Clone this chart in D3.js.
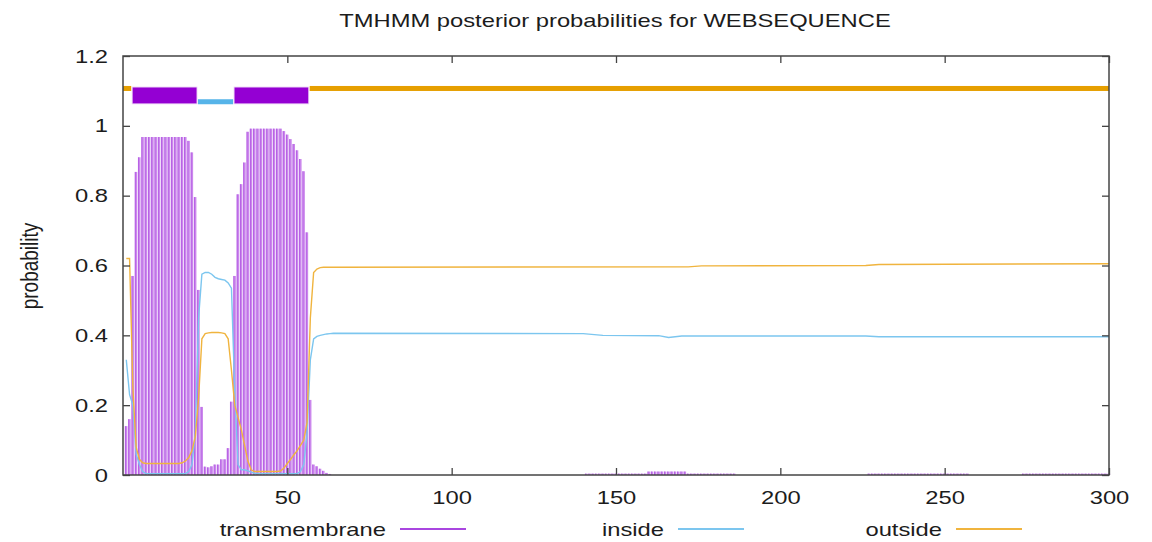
<!DOCTYPE html>
<html>
<head>
<meta charset="utf-8">
<script src="https://cdn.jsdelivr.net/npm/d3@7"></script>
<style>
  body { margin: 0; background: #fff; }
  text { font-family: "Liberation Sans", Arial, sans-serif; fill: #1c1c1c; }
</style>
</head>
<body>
<svg id="chart" width="1152" height="542"></svg>
<script>
// posterior probability of transmembrane state, residues 1..300
const tmProb = [
  0.14, 0.16, 0.57, 0.868, 0.91, 0.968, 0.968, 0.968, 0.968, 0.968, 0.968, 0.968, 0.968, 0.968, 0.968, 0.968, 0.968, 0.968, 0.968, 0.957,
  0.924, 0.796, 0.53, 0.195, 0.024, 0.022, 0.025, 0.03, 0.03, 0.045, 0.045, 0.077, 0.21, 0.57, 0.804, 0.833, 0.895, 0.983, 0.992, 0.992,
  0.992, 0.992, 0.992, 0.992, 0.992, 0.992, 0.992, 0.992, 0.985, 0.975, 0.962, 0.948, 0.93, 0.905, 0.87, 0.695, 0.215, 0.03, 0.025, 0.018,
  0.012, 0.006, 0.003, 0, 0, 0, 0, 0, 0, 0, 0, 0, 0, 0, 0, 0, 0, 0, 0, 0,
  0, 0, 0, 0, 0, 0, 0, 0, 0, 0, 0, 0, 0, 0, 0, 0, 0, 0, 0, 0,
  0, 0, 0, 0, 0, 0, 0, 0, 0, 0, 0, 0, 0, 0, 0, 0, 0, 0, 0, 0,
  0, 0, 0, 0, 0, 0, 0, 0, 0, 0, 0, 0, 0, 0, 0, 0, 0, 0, 0, 0,
  0.004, 0.004, 0.004, 0.004, 0.004, 0.004, 0.004, 0.004, 0.004, 0.004, 0.004, 0.004, 0.004, 0.004, 0.004, 0.004, 0.004, 0.004, 0.004, 0.01,
  0.01, 0.01, 0.01, 0.01, 0.01, 0.01, 0.01, 0.01, 0.01, 0.01, 0.01, 0.004, 0.004, 0.004, 0.004, 0.004, 0.004, 0.004, 0.004, 0.004,
  0.004, 0.004, 0.004, 0.004, 0.004, 0.004, 0, 0, 0, 0, 0, 0, 0, 0, 0, 0, 0, 0, 0, 0,
  0, 0, 0, 0, 0, 0, 0, 0, 0, 0, 0, 0, 0, 0, 0, 0, 0, 0, 0, 0,
  0, 0, 0, 0, 0, 0, 0.004, 0.004, 0.004, 0.004, 0.004, 0.004, 0.004, 0.004, 0.004, 0.004, 0.004, 0.004, 0.004, 0.004,
  0.004, 0.004, 0.004, 0.004, 0.004, 0.004, 0.004, 0.004, 0.004, 0.004, 0.004, 0.004, 0.004, 0.004, 0.004, 0.004, 0.004, 0, 0, 0,
  0, 0, 0, 0, 0, 0, 0, 0, 0, 0, 0, 0, 0, 0.004, 0.004, 0.004, 0.004, 0.004, 0.004, 0.004,
  0.004, 0.004, 0.004, 0.004, 0.004, 0.004, 0.004, 0.004, 0.004, 0.004, 0.004, 0.004, 0.004, 0.004, 0.004, 0.004, 0.004, 0.004, 0.004, 0.004
];

// inside / outside, residue by residue where they move (1..63)
const insideHead = [
  0.33, 0.23, 0.20, 0.06, 0.03, 0.01, 0.004, 0.004, 0.004, 0.004, 0.004, 0.004, 0.004, 0.004, 0.004, 0.004, 0.004, 0.004, 0.004, 0.01,
  0.03, 0.12, 0.45, 0.575, 0.58, 0.58, 0.575, 0.566, 0.562, 0.56, 0.558, 0.55, 0.535, 0.24, 0.03, 0.015, 0.015, 0.012, 0.008, 0.005,
  0.004, 0.004, 0.004, 0.004, 0.004, 0.004, 0.004, 0.004, 0.004, 0.004, 0.004, 0.004, 0.004, 0.01, 0.03, 0.12, 0.33, 0.39, 0.397, 0.40,
  0.402, 0.404, 0.405
];
const outsideHead = [
  0.62, 0.62, 0.25, 0.08, 0.045, 0.035, 0.033, 0.033, 0.033, 0.033, 0.033, 0.033, 0.033, 0.033, 0.033, 0.033, 0.033, 0.035, 0.04, 0.05,
  0.07, 0.11, 0.22, 0.39, 0.405, 0.407, 0.408, 0.408, 0.408, 0.407, 0.405, 0.39, 0.30, 0.20, 0.165, 0.13, 0.085, 0.04, 0.015, 0.01,
  0.01, 0.01, 0.01, 0.01, 0.01, 0.01, 0.01, 0.012, 0.02, 0.033, 0.045, 0.058, 0.07, 0.085, 0.10, 0.15, 0.45, 0.58, 0.59, 0.594,
  0.595, 0.595, 0.595
];
// the long flat part: [residue, value] where the line bends
const insideTail = [[64, 0.406], [140, 0.405], [146, 0.400], [163, 0.399], [166, 0.394], [170, 0.398], [226, 0.398], [230, 0.396], [300, 0.396]];
const outsideTail = [[64, 0.595], [172, 0.596], [176, 0.599], [226, 0.600], [230, 0.603], [300, 0.605]];

// predicted topology: [type, first residue, last residue]
const topology = [
  ["outside", 1, 2],
  ["TM", 3, 22],
  ["inside", 23, 33],
  ["TM", 34, 56],
  ["outside", 57, 300]
];

const xTicks = [50, 100, 150, 200, 250, 300];
const yTicks = [0, 0.2, 0.4, 0.6, 0.8, 1, 1.2];
const yTickLabels = ["0", "0.2", "0.4", "0.6", "0.8", "1", "1.2"];
const legendItems = ["transmembrane", "inside", "outside"];

const colors = { TM: "#9400d3", inside: "#56b4e9", outside: "#e69f00" };
const lineColors = { transmembrane: "#a946e0", inside: "#7cc6ef", outside: "#f0b43e" };

const svg = d3.select("#chart");
const stretch = "scale(1.25,1)";

const x = d3.scaleLinear().domain([0, 300]).range([123, 1109]);
const y = d3.scaleLinear().domain([0, 1.2]).range([475, 56]);

// transmembrane impulses
const bars = svg.append("g");
tmProb.forEach((v, i) => {
  if (v <= 0) return;
  const cx = x(i + 1);
  bars.append("rect")
    .attr("x", cx - 1.2)
    .attr("width", 2.3)
    .attr("y", y(v))
    .attr("height", y(0) - y(v))
    .attr("fill", "#cb88ec");
  bars.append("line")
    .attr("x1", cx - 1.0).attr("x2", cx - 1.0)
    .attr("y1", y(v)).attr("y2", y(0))
    .attr("stroke", "#9d2edb")
    .attr("stroke-width", 0.6);
});

const line = d3.line().x(d => x(d[0])).y(d => y(d[1]));
const insidePts = insideHead.map((v, i) => [i + 1, v]).concat(insideTail);
const outsidePts = outsideHead.map((v, i) => [i + 1, v]).concat(outsideTail);

svg.append("path").datum(insidePts)
  .attr("d", line).attr("fill", "none")
  .attr("stroke", lineColors.inside).attr("stroke-width", 1.4);
svg.append("path").datum(outsidePts)
  .attr("d", line).attr("fill", "none")
  .attr("stroke", lineColors.outside).attr("stroke-width", 1.4);

// topology strip above the plot
topology.forEach(t => {
  const x0 = t[1] === 1 ? x.range()[0] : x(t[1] - 0.5) + 1;
  const x1 = Math.min(x(t[2] + 0.5), x.range()[1]);
  if (t[0] === "TM") {
    svg.append("rect")
      .attr("x", x0).attr("width", x1 - x0)
      .attr("y", y(1.111)).attr("height", y(1.063) - y(1.111))
      .attr("fill", colors.TM).attr("stroke", "#e8c8f4").attr("stroke-width", 0.8);
  } else {
    const yy = t[0] === "inside" ? 1.069 : 1.107;
    svg.append("rect")
      .attr("x", x0).attr("width", x1 - x0)
      .attr("y", y(yy) - 2.5).attr("height", 5)
      .attr("fill", colors[t[0]]);
  }
});

// frame and ticks (gnuplot style, ticks inward, mirrored)
const axisStyle = g => {
  g.select(".domain").remove();
  g.selectAll(".tick line").attr("stroke", "#444").attr("stroke-width", 1.3);
  g.selectAll("text").style("font-size", "19px").attr("fill", "#1c1c1c").attr("transform", stretch);
};

svg.append("g").attr("transform", "translate(0,475)")
  .call(d3.axisBottom(x).tickValues(xTicks).tickFormat(d3.format("d")).tickSize(-7).tickPadding(16))
  .call(axisStyle);
svg.append("g").attr("transform", "translate(0,56)")
  .call(d3.axisTop(x).tickValues(xTicks).tickFormat("").tickSize(-7))
  .call(axisStyle);
svg.append("g").attr("transform", "translate(123,0)")
  .call(d3.axisLeft(y).tickValues(yTicks).tickFormat((d, i) => yTickLabels[i]).tickSize(-7).tickPadding(12))
  .call(axisStyle);
svg.append("g").attr("transform", "translate(1109,0)")
  .call(d3.axisRight(y).tickValues(yTicks).tickFormat("").tickSize(-7))
  .call(axisStyle);

svg.append("rect")
  .attr("x", 123).attr("y", 56)
  .attr("width", 1109 - 123).attr("height", 475 - 56)
  .attr("fill", "none").attr("stroke", "#444").attr("stroke-width", 1.5);

// title and y label
svg.append("text")
  .attr("transform", "translate(615,27) " + stretch)
  .attr("text-anchor", "middle")
  .style("font-size", "19px")
  .text("TMHMM posterior probabilities for WEBSEQUENCE");

svg.append("text")
  .attr("transform", "translate(38,266) rotate(-90) scale(1,1.25)")
  .attr("text-anchor", "middle")
  .style("font-size", "19px")
  .text("probability");

// legend
legendItems.forEach((name, i) => {
  const lx = 400 + i * 278;
  svg.append("text")
    .attr("transform", "translate(" + (lx - 14) + ",536) " + stretch)
    .attr("text-anchor", "end")
    .style("font-size", "19px")
    .text(name);
  svg.append("line")
    .attr("x1", lx).attr("x2", lx + 66)
    .attr("y1", 529).attr("y2", 529)
    .attr("stroke", lineColors[name]).attr("stroke-width", 2);
});
</script>
</body>
</html>
